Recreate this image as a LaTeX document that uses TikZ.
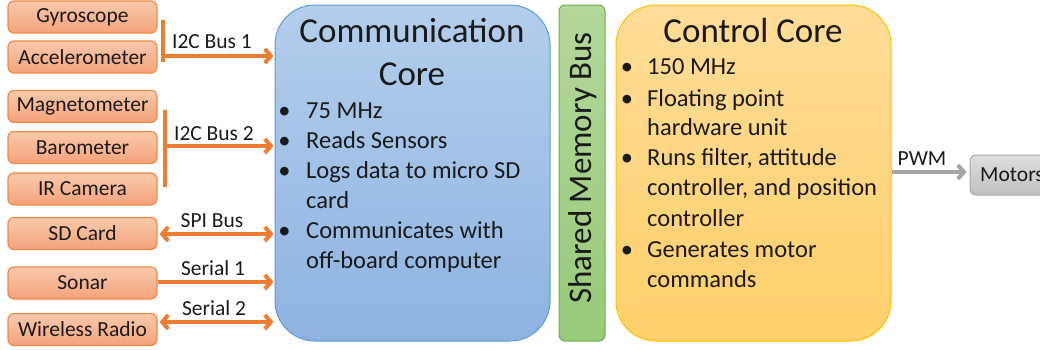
\documentclass[tikz,border=0pt]{standalone}
\usepackage{fontspec}
\setmainfont{Carlito}
\usetikzlibrary{arrows.meta}
\definecolor{orTop}{HTML}{F9C9AC}
\definecolor{orBot}{HTML}{F4A27A}
\definecolor{orLine}{HTML}{ED7D31}
\definecolor{bxLine}{HTML}{F08A48}
\definecolor{blTop}{HTML}{B4CEEC}
\definecolor{blBot}{HTML}{8DB3E2}
\definecolor{blLine}{HTML}{5B9BD5}
\definecolor{yeTop}{HTML}{FFDC98}
\definecolor{yeBot}{HTML}{FFD06A}
\definecolor{yeLine}{HTML}{FFC000}
\definecolor{grTop}{HTML}{B3D79C}
\definecolor{grBot}{HTML}{98C978}
\definecolor{grLine}{HTML}{70AD47}
\definecolor{gyTop}{HTML}{DEDEDE}
\definecolor{gyBot}{HTML}{C0C0C0}
\definecolor{gyLine}{HTML}{A6A6A6}
\definecolor{txt}{HTML}{1A1A1A}
\tikzset{
  sensor/.style={draw=bxLine, line width=1.2pt, top color=orTop, bottom color=orBot,
    rounded corners=6pt, minimum width=149pt, minimum height=32pt, inner sep=0pt,
    text=txt, font=\fontsize{21.5}{25}\selectfont},
  core/.style={line width=1pt, rounded corners=40pt, minimum width=275pt,
    minimum height=336pt, inner sep=0pt},
  lbl/.style={text=txt, font=\fontsize{21.5}{25}\selectfont, inner sep=0pt},
  title/.style={text=txt, font=\fontsize{35}{42}\selectfont, inner sep=0pt, anchor=base},
  btxt/.style={text=txt, font=\fontsize{24.5}{30}\selectfont, inner sep=0pt, anchor=base west},
  bul/.style={text=txt, font=\fontsize{24.5}{30}\selectfont, inner sep=0pt, anchor=base},
  bus/.style={draw=orLine, line width=4pt},
  arr/.style={draw=orLine, line width=4pt, -{Straight Barb[length=6pt,width=14pt]}},
  darr/.style={draw=orLine, line width=4pt, {Straight Barb[length=6pt,width=14pt]}-{Straight Barb[length=6pt,width=14pt]}},
}
\begin{document}
\begin{tikzpicture}[x=1pt,y=-1pt]
\useasboundingbox (0,0) rectangle (1040,349);
\clip (0,0) rectangle (1040,349);
% sensors
\node[sensor] (gyro) at (82.5,17) {Gyroscope};
\node[sensor] (acc) at (82.5,57) {Accelerometer};
\node[sensor] (mag) at (82.5,106.5) {Magnetometer};
\node[sensor] (baro) at (82.5,147.5) {Barometer};
\node[sensor] (ir) at (82.5,189) {IR Camera};
\node[sensor] (sd) at (82.5,233.5) {SD Card};
\node[sensor] (sonar) at (82.5,283) {Sonar};
\node[sensor] (radio) at (82.5,329.5) {Wireless Radio};
% cores
\node[core, draw=blLine, top color=blTop, bottom color=blBot] (comm) at (412.5,173) {};
\node[draw=grLine, line width=1pt, top color=grTop, bottom color=grBot, rounded corners=6pt,
  minimum width=46pt, minimum height=336pt, inner sep=0pt] (shm) at (582,173) {};
\node[core, draw=yeLine, top color=yeTop, bottom color=yeBot] (ctrl) at (753.5,173) {};
\node[draw=gyLine, line width=1pt, top color=gyTop, bottom color=gyBot, rounded corners=6pt,
  minimum width=84pt, minimum height=40pt, inner sep=0pt] (mot) at (1012,175) {};
\node[lbl, anchor=west] (motl) at (980,175) {Motors};
% shared memory text
\node[text=txt, font=\fontsize{33}{40}\selectfont, rotate=90, inner sep=0pt] (shmt) at (583,168) {Shared Memory Bus};
% comm text
\node[title] (ct1) at (412,42) {Communication};
\node[title] (ct2) at (412,85) {Core};
\node[bul] (cb1) at (284.5,118) {•};
\node[btxt] (cl1) at (306,118) {75 MHz};
\node[bul] (cb2) at (284.5,148) {•};
\node[btxt] (cl2) at (306,148) {Reads Sensors};
\node[bul] (cb3) at (284.5,178) {•};
\node[btxt] (cl3) at (306,178) {Logs data to micro SD};
\node[btxt] (cl4) at (306,208) {card};
\node[bul] (cb4) at (284.5,238) {•};
\node[btxt] (cl5) at (306,238) {Communicates with};
\node[btxt] (cl6) at (306,268) {off-board computer};
% control text
\node[title] (kt1) at (753,42) {Control Core};
\node[bul] (kb1) at (627,74) {•};
\node[btxt] (kl1) at (647,74) {150 MHz};
\node[bul] (kb2) at (627,106) {•};
\node[btxt] (kl2) at (647,106) {Floating point};
\node[btxt] (kl3) at (647,135) {hardware unit};
\node[bul] (kb3) at (627,165) {•};
\node[btxt] (kl4) at (647,165) {Runs filter, attitude};
\node[btxt] (kl5) at (647,195) {controller, and position};
\node[btxt] (kl6) at (647,226) {controller};
\node[bul] (kb4) at (627,257) {•};
\node[btxt] (kl7) at (647,257) {Generates motor};
\node[btxt] (kl8) at (647,287) {commands};
% buses
\coordinate (b1t) at (163,20);
\coordinate (b1b) at (163,62);
\coordinate (b1o) at (163,56);
\draw[bus] (b1t) -- (b1b);
\draw[arr, shorten >=1pt] (b1o) -- (b1o -| comm.west);
\node[lbl, anchor=base] (l1) at (212,48) {I2C Bus 1};
\coordinate (b2t) at (165,110);
\coordinate (b2b) at (165,187);
\coordinate (b2o) at (165,146);
\draw[bus] (b2t) -- (b2b);
\draw[arr, shorten >=1pt] (b2o) -- (b2o -| comm.west);
\node[lbl, anchor=base] (l2) at (214,140) {I2C Bus 2};
\coordinate (spi) at (160,234);
\draw[darr, shorten <=2pt, shorten >=1pt] (sd.east |- spi) -- (spi -| comm.west);
\node[lbl, anchor=base] (l3) at (212,227) {SPI Bus};
\coordinate (s1) at (160,282);
\draw[arr, shorten >=1pt] (sonar.east |- s1) -- (s1 -| comm.west);
\node[lbl, anchor=base] (l4) at (213,275) {Serial 1};
\coordinate (s2) at (160,322);
\draw[darr, shorten <=2pt, shorten >=1pt] (radio.east |- s2) -- (s2 -| comm.west);
\node[lbl, anchor=base] (l5) at (214,315) {Serial 2};
% PWM
\coordinate (pw) at (900,172);
\draw[draw=gyLine, line width=4pt, -{Straight Barb[length=6pt,width=14pt]}, shorten >=3pt] (ctrl.east |- pw) -- (mot.west |- pw);
\node[lbl, anchor=base] (l6) at (922,165) {PWM};
\end{tikzpicture}
\end{document}
